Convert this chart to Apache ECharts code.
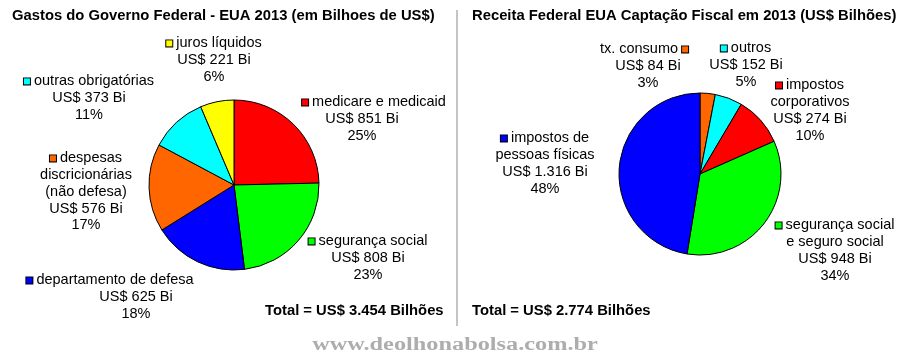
<!DOCTYPE html>
<html>
<head>
<meta charset="utf-8">
<script src="https://cdn.jsdelivr.net/npm/echarts@6/dist/echarts.min.js"></script>
<style>html,body{margin:0;padding:0;background:#fff;}#c{width:900px;height:360px;}</style>
</head>
<body>
<div id="c"></div>
<script>
// ---- Data ----
var leftTitle = 'Gastos do Governo Federal - EUA 2013 (em Bilhoes de US$)';
var leftNames = ['medicare e medicaid', 'segurança social', 'departamento de defesa', 'despesas\ndiscricionárias\n(não defesa)', 'outras obrigatórias', 'juros líquidos'];
var leftValues = [851, 808, 625, 576, 373, 221];
var leftPercents = ['25%', '23%', '18%', '17%', '11%', '6%'];
var leftColors = ['#ff0000', '#00ff00', '#0000ff', '#ff6600', '#00ffff', '#ffff00'];

var rightTitle = 'Receita Federal EUA Captação Fiscal em 2013 (US$ Bilhões)';
var rightNames = ['tx. consumo', 'outros', 'impostos\ncorporativos', 'segurança social\ne seguro social', 'impostos de\npessoas físicas'];
var rightValues = [84, 152, 274, 948, 1316];
var rightPercents = ['3%', '5%', '10%', '34%', '48%'];
var rightColors = ['#ff6600', '#00ffff', '#ff0000', '#00ff00', '#0000ff'];
var rightKeyAfter = [true, false, false, false, false];

var watermark = 'www.deolhonabolsa.com.br';

// label layout: anchor (center x, top y) and horizontal shift of the value lines
var leftLabelPos = [[374, 94], [368, 233], [110, 272], [86, 150], [89, 73], [214, 35]];
var leftValueShift = [-12, 0, 26, 0, 0, 0];
var rightLabelPos = [[644, 41], [746, 40], [810, 77], [835, 217], [545, 130]];
var rightValueShift = [4, 0, 0, 0, 0];

// ---- helpers ----
var FONT = "'Liberation Sans', Arial, sans-serif";
var LH = 16.75;
function fmt(v) { return String(v).replace(/\B(?=(\d{3})+(?!\d))/g, '.'); }
function sum(a) { return a.reduce(function (s, v) { return s + v; }, 0); }

function buildRich(colors, shifts) {
  var rich = { t: { fontSize: 14.5, fontFamily: FONT, color: '#000', lineHeight: LH } };
  colors.forEach(function (c, i) {
    rich['sq' + i] = { width: 6, height: 6, backgroundColor: c, borderColor: '#000', borderWidth: 1, lineHeight: LH };
    var s = shifts[i];
    rich['v' + i] = { fontSize: 14.5, fontFamily: FONT, color: '#000', lineHeight: LH,
      padding: s >= 0 ? [0, 0, 0, 2 * s] : [0, -2 * s, 0, 0] };
  });
  return rich;
}

function makeSeries(names, values, percents, colors, center, radius, pos, shifts, keyAfter) {
  return {
    type: 'pie',
    center: center,
    radius: radius,
    startAngle: 90,
    clockwise: true,
    animation: false,
    silent: true,
    data: values.map(function (v, i) {
      return { name: names[i], value: v, itemStyle: { color: colors[i] } };
    }),
    itemStyle: { borderColor: '#000', borderWidth: 1 },
    labelLine: { show: false },
    label: {
      show: true,
      position: 'outside',
      alignTo: 'none',
      overflow: 'none',
      rich: buildRich(colors, shifts),
      formatter: function (p) {
        var i = p.dataIndex;
        var lines = names[i].split('\n');
        var first = (keyAfter && keyAfter[i]) ? '{t|' + lines[0] + ' }{sq' + i + '|}' : '{sq' + i + '|}{t| ' + lines[0] + '}';
        var out = [first];
        for (var k = 1; k < lines.length; k++) out.push('{t|' + lines[k] + '}');
        out.push('{v' + i + '|US$ ' + fmt(values[i]) + ' Bi}');
        out.push('{v' + i + '|' + percents[i] + '}');
        return out.join('\n');
      }
    },
    labelLayout: function (p) {
      var q = pos[p.dataIndex];
      return { x: q[0], y: q[1], align: 'center', verticalAlign: 'top', width: 220 };
    }
  };
}

var BOLD = { fontFamily: FONT, fontSize: 14.8, fontWeight: 'bold', color: '#000' };
var chart = echarts.init(document.getElementById('c'), null, { renderer: 'canvas' });
chart.setOption({
  backgroundColor: '#fff',
  animation: false,
  title: [
    { text: leftTitle, left: 12, top: 8, padding: 0, textStyle: BOLD },
    { text: rightTitle, left: 472, top: 8, padding: 0, textStyle: BOLD },
    { text: 'Total = US$ ' + fmt(sum(leftValues)) + ' Bilhões', left: 265, top: 303, padding: 0, textStyle: BOLD },
    { text: 'Total = US$ ' + fmt(sum(rightValues)) + ' Bilhões', left: 472, top: 303, padding: 0, textStyle: BOLD }
  ],
  graphic: [
    { type: 'line', shape: { x1: 457, y1: 10, x2: 457, y2: 326 }, style: { stroke: '#c4c4c4', lineWidth: 2 }, silent: true },
    { type: 'text', x: 455, y: 345, scaleX: 1.35, style: { text: watermark, x: 0, y: 0, textAlign: 'center', textVerticalAlign: 'middle', fill: '#adadad', font: "bold 18px 'Liberation Serif', serif" }, silent: true }
  ],
  series: [
    makeSeries(leftNames, leftValues, leftPercents, leftColors, [234, 185], 85, leftLabelPos, leftValueShift, null),
    makeSeries(rightNames, rightValues, rightPercents, rightColors, [700, 174], 81, rightLabelPos, rightValueShift, rightKeyAfter)
  ]
});
</script>
</body>
</html>
